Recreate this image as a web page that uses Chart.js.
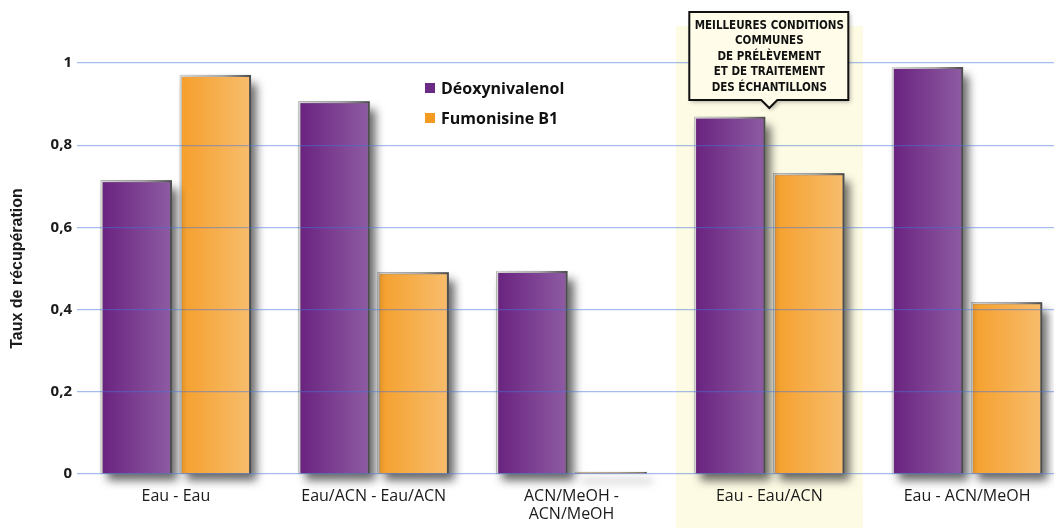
<!DOCTYPE html>
<html>
<head>
<meta charset="utf-8">
<script src="https://cdn.jsdelivr.net/npm/chart.js@4.4.1/dist/chart.umd.min.js"></script>
<style>
  html, body { margin: 0; padding: 0; background: #fff; overflow: hidden; }
  #wrap { position: relative; width: 1066px; height: 528px; }
</style>
</head>
<body>
<div id="wrap"><canvas id="chart"></canvas></div>
<script>
const categories = ["Eau - Eau", "Eau/ACN - Eau/ACN", ["ACN/MeOH -", "ACN/MeOH"], "Eau - Eau/ACN", "Eau - ACN/MeOH"];
const deoxynivalenol = [0.715, 0.907, 0.494, 0.869, 0.99];
const fumonisine = [0.971, 0.491, 0.005, 0.732, 0.418];
const seriesNames = ["Déoxynivalenol", "Fumonisine B1"];
const yTicks = [0, 0.2, 0.4, 0.6, 0.8, 1];
const highlightIndex = 3;
const calloutLines = ["MEILLEURES CONDITIONS", "COMMUNES", "DE PRÉLÈVEMENT", "ET DE TRAITEMENT", "DES ÉCHANTILLONS"];

const FONT = "'Open Sans', 'Noto Sans', sans-serif";
const CAT_PCT = 0.8, BAR_PCT = 0.9;

// gradient couleurs par série : [gauche, droite]
const fills = [["#69227f", "#8e5ca3"], ["#f59f2b", "#f7bd6d"]];
const legendColors = ["#6b2a86", "#f39a1f"];

function barBox(chart, dsIndex, index) {
  const x = chart.scales.x;
  const size = (x.right - x.left) / categories.length;
  const range = size * CAT_PCT;
  const slot = range / 2;
  const center = x.getPixelForValue(index) - range / 2 + slot * dsIndex + slot / 2;
  const w = slot * BAR_PCT;
  return { left: center - w / 2, right: center + w / 2 };
}

function barFill(ctx) {
  const chart = ctx.chart;
  if (!chart.chartArea || ctx.type !== "data") return fills[ctx.datasetIndex][0];
  const b = barBox(chart, ctx.datasetIndex, ctx.dataIndex);
  const g = chart.ctx.createLinearGradient(b.left, 0, b.right, 0);
  g.addColorStop(0, fills[ctx.datasetIndex][0]);
  g.addColorStop(1, fills[ctx.datasetIndex][1]);
  return g;
}

function barBorder(ctx) {
  const chart = ctx.chart;
  if (!chart.chartArea || ctx.type !== "data") return "#999";
  const b = barBox(chart, ctx.datasetIndex, ctx.dataIndex);
  const g = chart.ctx.createLinearGradient(b.left, 0, b.right, 0);
  g.addColorStop(0, "#d4d4d4");
  g.addColorStop(0.6, "#a8a8a8");
  g.addColorStop(1, "#4a4a4a");
  return g;
}

// fond jaune derrière la meilleure condition
const highlightPlugin = {
  id: "highlight",
  beforeDraw(chart) {
    const { ctx, scales: { x } } = chart;
    const size = (x.right - x.left) / categories.length;
    const cx = x.getPixelForValue(highlightIndex);
    ctx.save();
    ctx.fillStyle = "#fdfbe4";
    ctx.fillRect(cx - size * 0.473, 26, size * 0.946, chart.height - 26);
    ctx.restore();
  }
};

// ombres portées des barres
const shadowPlugin = {
  id: "barShadow",
  beforeDatasetDraw(chart, args) {
    const { ctx } = chart;
    const meta = args.meta;
    ctx.save();
    ctx.shadowColor = "rgba(0,0,0,0.6)";
    ctx.shadowBlur = 9;
    ctx.shadowOffsetX = 6;
    ctx.shadowOffsetY = 8;
    ctx.fillStyle = "#777";
    meta.data.forEach(el => {
      const p = el.getProps(["x", "y", "base", "width"], true);
      ctx.fillRect(p.x - p.width / 2, p.y, p.width, p.base - p.y);
    });
    ctx.restore();
  }
};

// légende et encadré
const overlayPlugin = {
  id: "overlay",
  afterDraw(chart) {
    const { ctx, scales: { x } } = chart;
    ctx.save();
    ctx.font = "bold 16px " + FONT;
    ctx.textBaseline = "middle";
    seriesNames.forEach((name, i) => {
      const y = 88 + i * 30;
      ctx.fillStyle = legendColors[i];
      ctx.fillRect(425, y - 5, 10, 10);
      ctx.fillStyle = "#111";
      ctx.fillText(name, 441, y + 1);
    });

    const cx = x.getPixelForValue(highlightIndex);
    const left = cx - 80, right = cx + 79, top = 12, bottom = 100;
    ctx.shadowColor = "rgba(0,0,0,0.3)";
    ctx.shadowBlur = 4;
    ctx.shadowOffsetX = 2;
    ctx.shadowOffsetY = 2;
    ctx.beginPath();
    ctx.moveTo(left, top);
    ctx.lineTo(right, top);
    ctx.lineTo(right, bottom);
    ctx.lineTo(cx + 8, bottom);
    ctx.lineTo(cx, bottom + 8);
    ctx.lineTo(cx - 8, bottom);
    ctx.lineTo(left, bottom);
    ctx.closePath();
    ctx.fillStyle = "#fffde9";
    ctx.fill();
    ctx.shadowColor = "transparent";
    ctx.lineWidth = 2;
    ctx.strokeStyle = "#111";
    ctx.stroke();

    ctx.fillStyle = "#111";
    ctx.font = "bold 11.5px 'DejaVu Sans Condensed', 'Liberation Sans Narrow', sans-serif";
    ctx.textAlign = "center";
    calloutLines.forEach((line, i) => {
      ctx.fillText(line, cx, 26 + i * 15.4);
    });
    ctx.restore();
  }
};

new Chart(document.getElementById("chart"), {
  type: "bar",
  data: {
    labels: categories,
    datasets: [
      { label: seriesNames[0], data: deoxynivalenol, backgroundColor: barFill, borderColor: barBorder,
        borderWidth: { top: 2, left: 2, right: 2, bottom: 0 }, borderSkipped: false },
      { label: seriesNames[1], data: fumonisine, backgroundColor: barFill, borderColor: barBorder,
        borderWidth: { top: 2, left: 2, right: 2, bottom: 0 }, borderSkipped: false }
    ]
  },
  options: {
    responsive: true,
    maintainAspectRatio: false,
    animation: false,
    datasets: { bar: { categoryPercentage: CAT_PCT, barPercentage: BAR_PCT } },
    layout: { padding: { top: 63, left: 0, right: 0, bottom: 0 } },
    plugins: {
      legend: { display: false },
      tooltip: { enabled: false }
    },
    scales: {
      x: {
        grid: { display: false },
        border: { display: false },
        ticks: {
          color: "#1a1a1a",
          font: { family: FONT, size: 16, lineHeight: 1.1 },
          padding: 6,
          maxRotation: 0,
          autoSkip: false
        },
        afterFit(scale) { scale.height = 54; }
      },
      y: {
        min: 0,
        max: 1,
        afterBuildTicks(scale) { scale.ticks = yTicks.map(v => ({ value: v })); },
        grid: { color: "rgba(70,115,220,0.48)", lineWidth: 1.2, drawTicks: false, z: 1 },
        border: { display: false },
        ticks: {
          color: "#1a1a1a",
          font: { family: FONT, size: 15, weight: "bold" },
          padding: 5,
          callback: v => String(Number(v.toFixed(1))).replace(".", ",")
        },
        title: {
          display: true,
          text: "Taux de récupération",
          color: "#1a1a1a",
          font: { family: "'Liberation Sans', Arial, sans-serif", size: 16, weight: "bold" },
          padding: { top: 8, bottom: 0 }
        },
        afterFit(scale) { scale.width = 77; }
      }
    }
  },
  plugins: [highlightPlugin, shadowPlugin, overlayPlugin]
});
</script>
</body>
</html>
